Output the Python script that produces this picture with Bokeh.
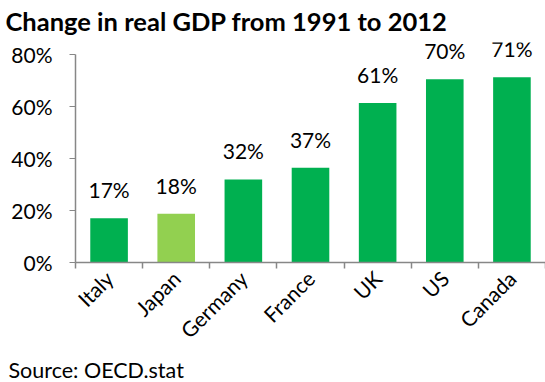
import numpy as np
from bokeh.plotting import figure
from bokeh.models import (ColumnDataSource, FixedTicker, NumeralTickFormatter, Range1d, Title, LabelSet)
from bokeh.embed import file_html
from bokeh.resources import INLINE
from bokeh.core.properties import value

countries = ["Italy", "Japan", "Germany", "France", "UK", "US", "Canada"]
change = [0.170, 0.187, 0.319, 0.364, 0.613, 0.704, 0.712]
labels = ["17%", "18%", "32%", "37%", "61%", "70%", "71%"]
colors = ["#00B050", "#92D050", "#00B050", "#00B050", "#00B050", "#00B050", "#00B050"]
y_ticks = [0, 0.2, 0.4, 0.6, 0.8]

FONT = "Lato"

x = list(np.arange(len(countries)) + 0.5)
src = ColumnDataSource(dict(x=x, y=change, lab=labels, color=colors))

p = figure(width=545, height=382, output_backend="svg", toolbar_location=None,
           x_range=Range1d(0, len(countries)), y_range=Range1d(0, 0.845),
           min_border_left=75, min_border_right=0, min_border_top=38,
           min_border_bottom=119)
p.outline_line_color = None
p.grid.grid_line_color = None
p.background_fill_color = "white"

p.vbar(x="x", top="y", width=0.56, bottom=0, color="color", line_color=None, source=src)

p.add_layout(LabelSet(x="x", y="y", text="lab", source=src, text_align="center",
                      text_baseline="bottom", y_offset=16, text_font=value(FONT),
                      text_font_size="21px", text_color="black"))

axis_color = "#878787"
# y axis
ya = p.yaxis[0]
ya.ticker = FixedTicker(ticks=y_ticks)
ya.formatter = NumeralTickFormatter(format="0%")
ya.bounds = (0, 0.8)
ya.axis_line_color = axis_color
ya.axis_line_width = 1.5
ya.major_tick_line_color = axis_color
ya.major_tick_out = 6
ya.major_tick_in = 0
ya.minor_tick_line_color = None
ya.major_label_text_font = FONT
ya.major_label_text_font_size = "21px"
ya.major_label_text_color = "black"
ya.major_label_standoff = 17

# x axis
xa = p.xaxis[0]
xa.ticker = FixedTicker(ticks=x, minor_ticks=list(range(len(countries) + 1)))
xa.major_label_overrides = {xv: c for xv, c in zip(x, countries)}
xa.axis_line_color = axis_color
xa.axis_line_width = 1.5
xa.major_tick_line_color = None
xa.minor_tick_line_color = axis_color
xa.minor_tick_line_width = 1.5
xa.minor_tick_out = 6
xa.minor_tick_in = 0
xa.major_label_orientation = np.pi / 4
xa.major_label_text_font = FONT
xa.major_label_text_font_size = "21px"
xa.major_label_text_color = "black"
xa.major_label_standoff = 6

p.title.text = "Change in real GDP from 1991 to 2012"
p.title.text_font = FONT
p.title.text_font_size = "25.5px"
p.title.text_font_style = "bold"
p.title.text_color = "black"
p.title.align = "left"
p.title.offset = -70
p.title.vertical_align = "top"
p.title.text_line_height = 0.9

p.add_layout(Title(text="Source: OECD.stat", text_font=FONT, text_font_size="21.5px",
                   text_font_style="normal", text_color="black", align="left",
                   offset=-67, standoff=0), "below")

open("out.html", "w").write(file_html(p, INLINE))
